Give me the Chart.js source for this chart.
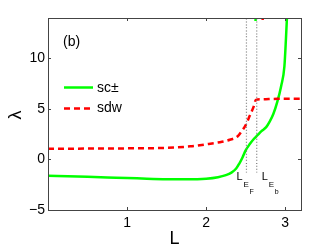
<!DOCTYPE html>
<html>
<head>
<meta charset="utf-8">
<script src="https://cdn.jsdelivr.net/npm/chart.js@4/dist/chart.umd.min.js"></script>
<style>
  html, body { margin: 0; padding: 0; background: #fff; }
  #wrap { width: 332px; height: 250px; }
</style>
</head>
<body>
<div id="wrap"><canvas id="chart" width="332" height="250"></canvas></div>
<script>
// sc± curve
const scL   = [0, 0.25, 0.5, 0.75, 1.0, 1.25, 1.5, 1.75, 2.0, 2.15, 2.25, 2.32, 2.38, 2.42, 2.46, 2.5, 2.55, 2.6, 2.65, 2.7, 2.76, 2.8, 2.85, 2.9, 2.95, 2.99, 3.01, 3.025];
const scLam = [-1.6, -1.66, -1.72, -1.78, -1.83, -1.9, -1.95, -1.96, -1.9, -1.75, -1.55, -1.3, -0.9, -0.4, 0.2, 0.9, 1.5, 2.0, 2.4, 2.8, 3.2, 3.7, 4.5, 5.7, 7.3, 9.2, 12.0, 14.5];
// sdw curve
const sdwL   = [0, 0.5, 1.0, 1.5, 1.8, 2.0, 2.2, 2.3, 2.4, 2.45, 2.5, 2.55, 2.6, 2.63, 2.7, 2.9, 3.2];
const sdwLam = [1.05, 1.08, 1.1, 1.15, 1.3, 1.5, 1.75, 1.95, 2.3, 2.8, 3.4, 4.3, 5.2, 5.9, 5.95, 6.0, 6.0];
// small pieces leaving the top of the frame
const scTopL = [2.625, 2.63];
const scTopLam = [13.7, 15];
const sdwTopL = [2.715, 2.725];
const sdwTopLam = [13.8, 15];
// dotted markers L_EF and L_Eb
const markL = [2.51, 2.64];
const markLam = [-1.3, 14];

const xTicks = [1, 2, 3];
const yTicks = [-5, 0, 5, 10];

function pts(xs, ys) { return xs.map((x, i) => ({ x: x, y: ys[i] })); }

const framePlugin = {
  id: 'frame',
  afterDraw(chart) {
    const ctx = chart.ctx;
    const a = chart.chartArea;
    const xs = chart.scales.x, ys = chart.scales.y;
    ctx.save();
    ctx.strokeStyle = '#444';
    ctx.lineWidth = 1;
    ctx.strokeRect(a.left + 0.5, a.top + 0.5, a.right - a.left, a.bottom - a.top);
    ctx.beginPath();
    xTicks.forEach(v => {
      const px = Math.round(xs.getPixelForValue(v)) + 0.5;
      ctx.moveTo(px, a.bottom); ctx.lineTo(px, a.bottom - 3);
      ctx.moveTo(px, a.top); ctx.lineTo(px, a.top + 3);
    });
    yTicks.forEach(v => {
      const py = Math.round(ys.getPixelForValue(v)) + 0.5;
      ctx.moveTo(a.left, py); ctx.lineTo(a.left + 3, py);
      ctx.moveTo(a.right, py); ctx.lineTo(a.right - 3, py);
    });
    ctx.stroke();

    ctx.fillStyle = '#000';
    ctx.textBaseline = 'middle';
    ctx.font = '14px "Liberation Sans", Arial, sans-serif';
    ctx.fillText('(b)', 63, 42);

    // legend
    ctx.lineWidth = 2.5;
    ctx.strokeStyle = '#00ff00';
    ctx.beginPath(); ctx.moveTo(64, 87.5); ctx.lineTo(93, 87.5); ctx.stroke();
    ctx.strokeStyle = '#ff0000';
    ctx.setLineDash([6, 4]);
    ctx.beginPath(); ctx.moveTo(64, 108.5); ctx.lineTo(93, 108.5); ctx.stroke();
    ctx.setLineDash([]);
    ctx.fillText('sc\u00b1', 97, 88);
    ctx.fillText('sdw', 97, 108);

    // axis titles
    ctx.font = '18px "Liberation Sans", Arial, sans-serif';
    ctx.textAlign = 'center';
    ctx.fillText('L', (a.left + a.right) / 2, 239);
    ctx.save();
    ctx.translate(16, 115);
    ctx.rotate(-Math.PI / 2);
    ctx.fillText('\u03bb', 0, 0);
    ctx.restore();

    // L_EF and L_Eb labels
    ctx.textAlign = 'left';
    ctx.textBaseline = 'alphabetic';
    [['F', xs.getPixelForValue(markL[0]) - 10], ['b', xs.getPixelForValue(markL[1]) + 5]].forEach(([s, x0]) => {
      ctx.font = '11px "Liberation Sans", Arial, sans-serif';
      ctx.fillText('L', x0, 180);
      ctx.font = '8px "Liberation Sans", Arial, sans-serif';
      ctx.fillText('E', x0 + 7, 187);
      ctx.font = '7px "Liberation Sans", Arial, sans-serif';
      ctx.fillText(s, x0 + 13, 194);
    });
    ctx.restore();
  }
};

const lineDs = (label, data, color, dash, width) => ({
  label: label,
  data: data,
  borderColor: color,
  borderWidth: width,
  borderDash: dash,
  pointRadius: 0,
  fill: false,
  tension: 0.3,
  cubicInterpolationMode: 'monotone',
  showLine: true
});

new Chart(document.getElementById('chart'), {
  type: 'scatter',
  data: {
    datasets: [
      lineDs('L_EF', pts([markL[0], markL[0]], markLam), '#777', [1, 2], 1.2),
      lineDs('L_Eb', pts([markL[1], markL[1]], markLam), '#777', [1, 2], 1.2),
      lineDs('sdw', pts(sdwL, sdwLam), '#ff0000', [6, 4], 2.5),
      lineDs('sdw top', pts(sdwTopL, sdwTopLam), '#ff0000', [], 2.5),
      lineDs('sc\u00b1', pts(scL, scLam), '#00ff00', [], 2.5),
      lineDs('sc top', pts(scTopL, scTopLam), '#00ff00', [], 2.5)
    ]
  },
  options: {
    responsive: false,
    animation: false,
    layout: { padding: { top: 18, right: 31, left: 0, bottom: 0 } },
    plugins: { legend: { display: false }, tooltip: { enabled: false } },
    scales: {
      x: {
        type: 'linear', min: 0, max: 3.2,
        grid: { display: false, drawTicks: false },
        border: { display: false },
        afterBuildTicks: s => { s.ticks = xTicks.map(v => ({ value: v })); },
        afterFit: s => { s.height = 40; },
        ticks: { padding: 5, color: '#000', font: { family: '"Liberation Sans", Arial, sans-serif', size: 14 } }
      },
      y: {
        type: 'linear', min: -5, max: 14,
        grid: { display: false, drawTicks: false },
        border: { display: false },
        afterBuildTicks: s => { s.ticks = yTicks.map(v => ({ value: v })); },
        afterFit: s => { s.width = 48; },
        ticks: {
          padding: 3, color: '#000',
          font: { family: '"Liberation Sans", Arial, sans-serif', size: 14 },
          callback: v => v < 0 ? '\u2212' + Math.abs(v) : String(v)
        }
      }
    }
  },
  plugins: [framePlugin]
});
</script>
</body>
</html>
